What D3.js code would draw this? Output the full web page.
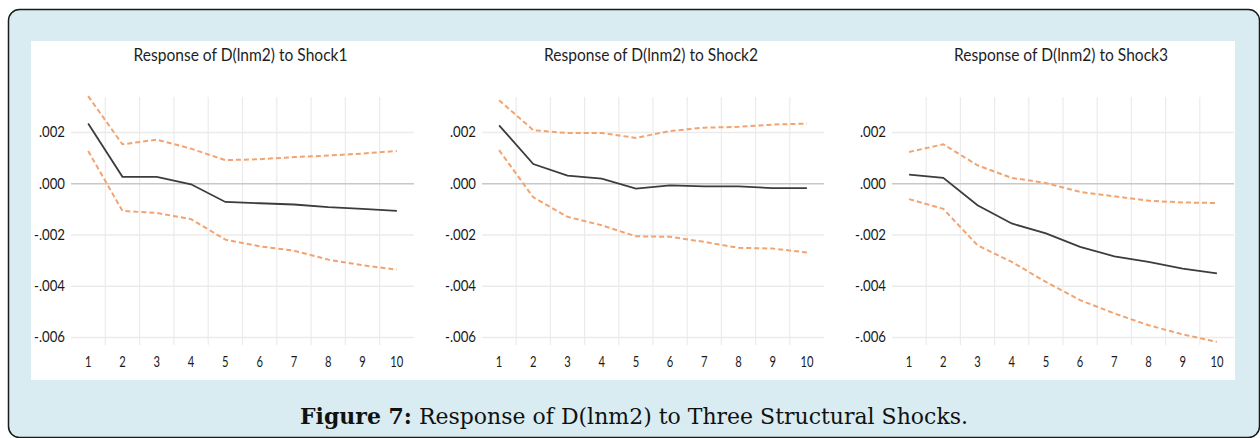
<!DOCTYPE html>
<html>
<head>
<meta charset="utf-8">
<script src="https://cdn.jsdelivr.net/npm/d3@7"></script>
<style>
  html, body { margin: 0; padding: 0; background: #fff; }
  svg { display: block; }
</style>
</head>
<body>
<div id="chart"></div>
<script>
// Periods on the x axis
const periods = [1, 2, 3, 4, 5, 6, 7, 8, 9, 10];
const yTicks = [0.002, 0, -0.002, -0.004, -0.006];
const titles = ["Response of D(lnm2) to Shock1", "Response of D(lnm2) to Shock2", "Response of D(lnm2) to Shock3"];

// Shock1
const resp1  = [0.00233, 0.00025, 0.00025, -0.00004, -0.00073, -0.00078, -0.00083, -0.00093, -0.00100, -0.00108];
const upper1 = [0.00340, 0.00152, 0.00170, 0.00135, 0.00090, 0.00094, 0.00102, 0.00108, 0.00116, 0.00126];
const lower1 = [0.00126, -0.00108, -0.00116, -0.00140, -0.00220, -0.00246, -0.00263, -0.00298, -0.00320, -0.00337];
// Shock2
const resp2  = [0.00226, 0.00075, 0.00030, 0.00018, -0.00021, -0.00008, -0.00012, -0.00012, -0.00019, -0.00019];
const upper2 = [0.00324, 0.00207, 0.00196, 0.00196, 0.00177, 0.00204, 0.00217, 0.00220, 0.00229, 0.00233];
const lower2 = [0.00129, -0.00055, -0.00131, -0.00164, -0.00207, -0.00209, -0.00229, -0.00252, -0.00255, -0.00270];
// Shock3
const resp3  = [0.00034, 0.00021, -0.00086, -0.00157, -0.00196, -0.00248, -0.00285, -0.00307, -0.00333, -0.00352];
const upper3 = [0.00122, 0.00152, 0.00070, 0.00021, 0.00001, -0.00034, -0.00051, -0.00068, -0.00075, -0.00077];
const lower3 = [-0.00062, -0.00100, -0.00242, -0.00307, -0.00385, -0.00456, -0.00508, -0.00554, -0.00590, -0.00619];

const W = 1260, H = 438;
const svg = d3.select("#chart").append("svg")
    .attr("width", W)
    .attr("height", H);

// outer rounded box
svg.append("rect")
    .attr("x", 8.5).attr("y", 9.5)
    .attr("width", 1251).attr("height", 428)
    .attr("rx", 11)
    .attr("fill", "#d9ecf2")
    .attr("stroke", "#1a1a1a")
    .attr("stroke-width", 1.5);

// white picture area
svg.append("rect")
    .attr("x", 31).attr("y", 41)
    .attr("width", 1204).attr("height", 339)
    .attr("fill", "#fff");

const panels = [
    { x0: 71, x1: 414, title: titles[0], resp: resp1, upper: upper1, lower: lower1 },
    { x0: 482, x1: 824, title: titles[1], resp: resp2, upper: upper2, lower: lower2 },
    { x0: 892, x1: 1234, title: titles[2], resp: resp3, upper: upper3, lower: lower3 }
];

const plotTop = 97, plotBottom = 345;
const fmt = v => v === 0 ? ".000" : (v < 0 ? "-" : "") + Math.abs(v).toFixed(3).replace(/^0/, "");

panels.forEach(p => {
    const g = svg.append("g");

    const x = d3.scaleBand()
        .domain(periods)
        .range([p.x0, p.x1]);

    const y = d3.scaleLinear()
        .domain([-0.006, 0.002])
        .range([337, 132]);

    // vertical gridlines between categories
    g.selectAll(".vgrid")
        .data(periods.slice(1))
        .enter().append("line")
        .attr("x1", d => x(d)).attr("x2", d => x(d))
        .attr("y1", plotTop).attr("y2", plotBottom)
        .attr("stroke", "#ebebeb")
        .attr("stroke-width", 1.2);

    // horizontal gridlines + y labels
    const yAxis = g.append("g")
        .attr("transform", `translate(${p.x0},0)`)
        .call(d3.axisLeft(y).tickValues(yTicks).tickSize(-(p.x1 - p.x0)).tickFormat(fmt).tickPadding(6));
    yAxis.select(".domain").remove();
    yAxis.selectAll(".tick line")
        .attr("stroke", d => d === 0 ? "#c8c8c8" : "#ebebeb")
        .attr("stroke-width", 1.5);
    yAxis.selectAll(".tick text")
        .attr("fill", "#1a1a1a")
        .attr("textLength", d => d < 0 ? 31 : 26)
        .attr("lengthAdjust", "spacingAndGlyphs")
        .style("font-family", "Lato, sans-serif")
        .style("font-size", "15px");

    // x labels
    const xAxis = g.append("g")
        .attr("transform", `translate(0,${plotBottom})`)
        .call(d3.axisBottom(x).tickSize(0).tickPadding(11));
    xAxis.select(".domain").remove();
    xAxis.selectAll(".tick text")
        .attr("fill", "#1a1a1a")
        .attr("textLength", d => d >= 10 ? 13 : 6.5)
        .attr("lengthAdjust", "spacingAndGlyphs")
        .style("font-family", "Lato, sans-serif")
        .style("font-size", "15px");

    const line = d3.line()
        .x((d, i) => x(periods[i]) + x.bandwidth() / 2)
        .y(d => y(d));

    [p.upper, p.lower].forEach(band => {
        g.append("path")
            .attr("d", line(band))
            .attr("fill", "none")
            .attr("stroke", "#f2a370")
            .attr("stroke-width", 2)
            .attr("stroke-dasharray", "5,3");
    });

    g.append("path")
        .attr("d", line(p.resp))
        .attr("fill", "none")
        .attr("stroke", "#3c3c3c")
        .attr("stroke-width", 1.8);

    // panel title
    g.append("text")
        .attr("x", (p.x0 + p.x1) / 2 - 2)
        .attr("y", 61)
        .attr("text-anchor", "middle")
        .attr("fill", "#1e1e1e")
        .attr("textLength", 214)
        .attr("lengthAdjust", "spacingAndGlyphs")
        .style("font-family", "Lato, sans-serif")
        .style("font-size", "18px")
        .text(p.title);
});

// caption
const cap = svg.append("text")
    .attr("x", 634)
    .attr("y", 424)
    .attr("text-anchor", "middle")
    .attr("fill", "#111")
    .attr("textLength", 668)
    .attr("lengthAdjust", "spacingAndGlyphs")
    .style("font-family", "'DejaVu Serif', 'Liberation Serif', serif")
    .style("font-size", "22px");
cap.append("tspan").style("font-weight", "bold").text("Figure 7:");
cap.append("tspan").text(" Response of D(lnm2) to Three Structural Shocks.");
</script>
</body>
</html>
